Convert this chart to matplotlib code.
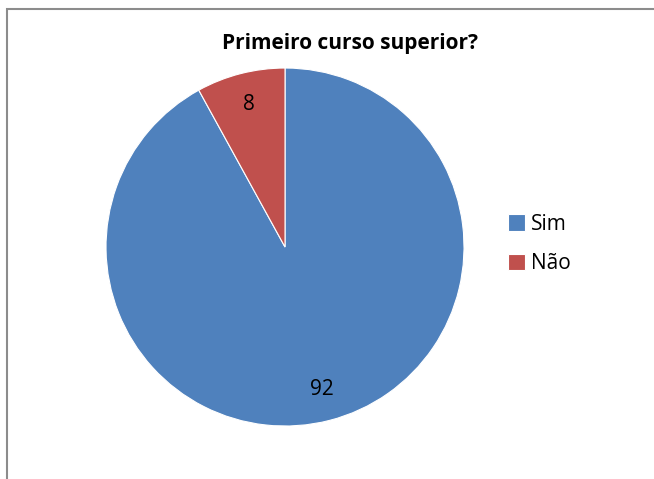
import matplotlib.pyplot as plt
from matplotlib.patches import Rectangle

# Dados do gráfico
categorias = ['Sim', 'Não']
valores = [92, 8]
cores = ['#4F81BD', '#C0504D']

plt.rcParams['font.family'] = ['Open Sans', 'DejaVu Sans']

fig = plt.figure(figsize=(6.54, 4.79), dpi=100)

# Borda da área do gráfico
fig.patches.append(Rectangle((7 / 654, -0.1), 1.2, 1 - 9 / 479 + 0.1,
                             transform=fig.transFigure, fill=False,
                             edgecolor='#8c8c8c', linewidth=1.5))

ax = fig.add_axes([0.1621, 0.1106, 0.5474, 0.7474])
wedges, textos = ax.pie(valores, colors=cores, startangle=90, counterclock=False,
                        labels=[str(v) for v in valores], labeldistance=0.82,
                        wedgeprops={'edgecolor': 'white', 'linewidth': 0.8},
                        textprops={'fontsize': 15, 'ha': 'center', 'va': 'center'})
ax.set_xlim(-1, 1)
ax.set_ylim(-1, 1)
ax.set_aspect('equal')

fig.text(350 / 654, 1 - 43 / 479, 'Primeiro curso superior?', ha='center', va='center',
         fontsize=15, fontweight='bold')

fig.legend(wedges, categorias, loc='center left', bbox_to_anchor=(489 / 654, 1 - 244 / 479),
           frameon=False, fontsize=15, handlelength=0.85, handleheight=0.85,
           handletextpad=0.25, labelspacing=0.9)

plt.savefig('out.png', dpi=100)
